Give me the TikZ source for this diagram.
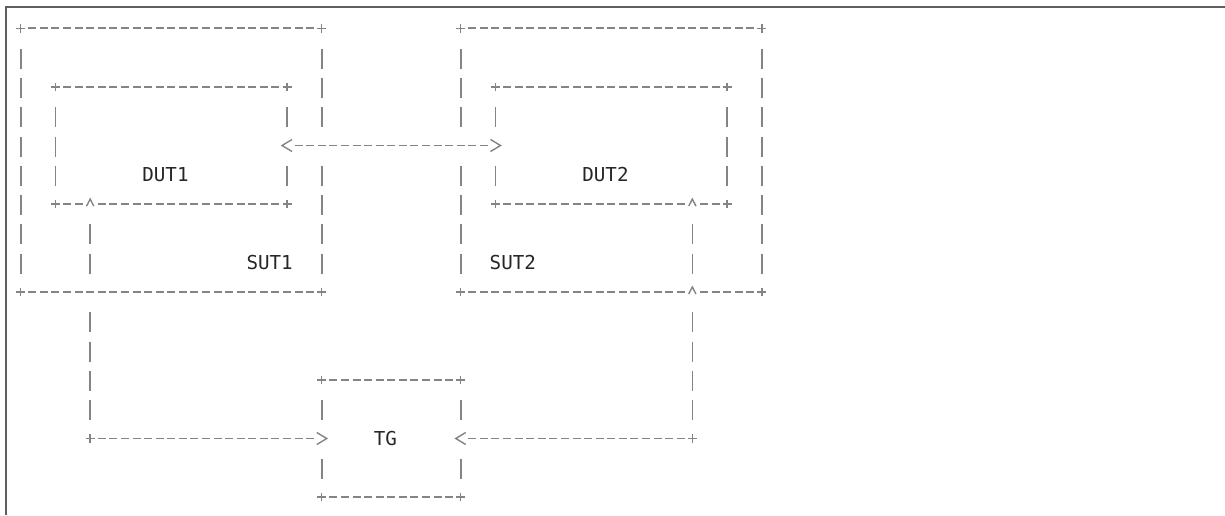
\documentclass[tikz,border=0pt]{standalone}
\usepackage{fontspec}
\setmonofont{DejaVu Sans Mono}
\usetikzlibrary{calc}

\definecolor{asciigray}{RGB}{132,132,132}
\definecolor{framegray}{RGB}{95,95,95}

\tikzset{
  glyph/.style={draw=asciigray, line width=1.25pt},
  hside/.style={glyph, dash pattern=on 6pt off 2.685pt, shorten <=5.685pt, shorten >=5.685pt},
  vside/.style={glyph, dash pattern=on 15pt off 6.975pt, shorten <=15.225pt, shorten >=13.725pt},
  hlink/.style={hside, preaction={draw=white, solid, line width=17pt, shorten <=-4.3pt, shorten >=-4.3pt}},
  vlink/.style={vside},
  lbl/.style={font=\ttfamily\fontsize{14.4}{17}\selectfont, text=black!85, inner sep=0pt},
  plus/.pic={\draw[glyph, line width=1.05pt] (-3.4pt,0) -- (3.4pt,0) (0,-3.2pt) -- (0,3.2pt);},
  ltip/.pic={\fill[white] (-4.3pt,-8.5pt) rectangle (4.3pt,7pt);
    \draw[glyph, line width=1.05pt] (3.75pt,4.5pt) -- (-3.75pt,0) -- (3.75pt,-4.5pt);},
  rtip/.pic={\fill[white] (-4.3pt,-8.5pt) rectangle (4.3pt,7pt);
    \draw[glyph, line width=1.05pt] (-3.75pt,4.5pt) -- (3.75pt,0) -- (-3.75pt,-4.5pt);},
  utip/.pic={\fill[white] (-3.8pt,-2pt) rectangle (3.8pt,2pt);
    \draw[glyph, line width=1.05pt] (-2.7pt,-1.5pt) -- (0,3.75pt) -- (2.7pt,-1.5pt);},
}

\begin{document}
\begin{tikzpicture}[x=8.685pt, y=-21.975pt]
    % Page and frame
    \fill[white] (-1.7876,-0.9659) rectangle (103.998,16.611);
    \useasboundingbox (-1.7876,-0.9659) rectangle (103.998,16.611);
    \coordinate (frame-bl) at (-1.269,16.611);
    \coordinate (frame-tl) at (-1.269,-0.727);
    \coordinate (frame-tr) at (103.998,-0.727);
    \draw[framegray, line width=1.5pt] (frame-bl) -- (frame-tl) -- (frame-tr);

    % Draw the boxes
    \foreach \bx/\ca/\ra/\cb/\rb in {sut1/0/0/26/9, sut2/38/0/64/9, dut1/3/2/23/6, dut2/41/2/61/6, tg/26/12/38/16} {
        \coordinate (\bx-nw) at (\ca,\ra);
        \coordinate (\bx-ne) at (\cb,\ra);
        \coordinate (\bx-sw) at (\ca,\rb);
        \coordinate (\bx-se) at (\cb,\rb);
        \draw[hside] (\bx-nw) -- (\bx-ne);
        \draw[hside] (\bx-sw) -- (\bx-se);
        \draw[vside] (\bx-nw) -- (\bx-sw);
        \draw[vside] (\bx-ne) -- (\bx-se);
        \foreach \k in {nw,ne,sw,se}
            \pic at (\bx-\k) {plus};
    }

    % Define the ports
    \coordinate (dut1-e) at (23,4);
    \coordinate (dut2-w) at (41,4);
    \coordinate (dut1-s) at (6,6);
    \coordinate (dut2-s) at (58,6);
    \coordinate (sut1-s) at (6,9);
    \coordinate (sut2-s) at (58,9);
    \coordinate (j1) at (6,14);
    \coordinate (j2) at (58,14);
    \coordinate (tg-w) at (26,14);
    \coordinate (tg-e) at (38,14);

    % Draw the links
    \draw[hlink] (dut1-e) -- (dut2-w);
    \draw[vlink] (dut1-s) -- (sut1-s);
    \draw[vlink] (sut1-s) -- (j1);
    \draw[hlink] (j1) -- (tg-w);
    \draw[vlink] (dut2-s) -- (sut2-s);
    \draw[vlink] (sut2-s) -- (j2);
    \draw[hlink] (j2) -- (tg-e);

    \pic at (dut1-e) {ltip};
    \pic at (dut2-w) {rtip};
    \pic at (tg-w) {rtip};
    \pic at (tg-e) {ltip};
    \foreach \point in {dut1-s, dut2-s, sut2-s}
        \pic at (\point) {utip};
    \foreach \point in {j1, j2}
        \pic at (\point) {plus};

    % Labels
    \node[lbl] (dut1) at (12.5,5) {DUT1};
    \node[lbl] (dut2) at (50.5,5) {DUT2};
    \node[lbl] (sut1) at (21.5,8) {SUT1};
    \node[lbl] (sut2) at (42.5,8) {SUT2};
    \node[lbl] (tg) at (31.5,14) {TG};
\end{tikzpicture}
\end{document}
